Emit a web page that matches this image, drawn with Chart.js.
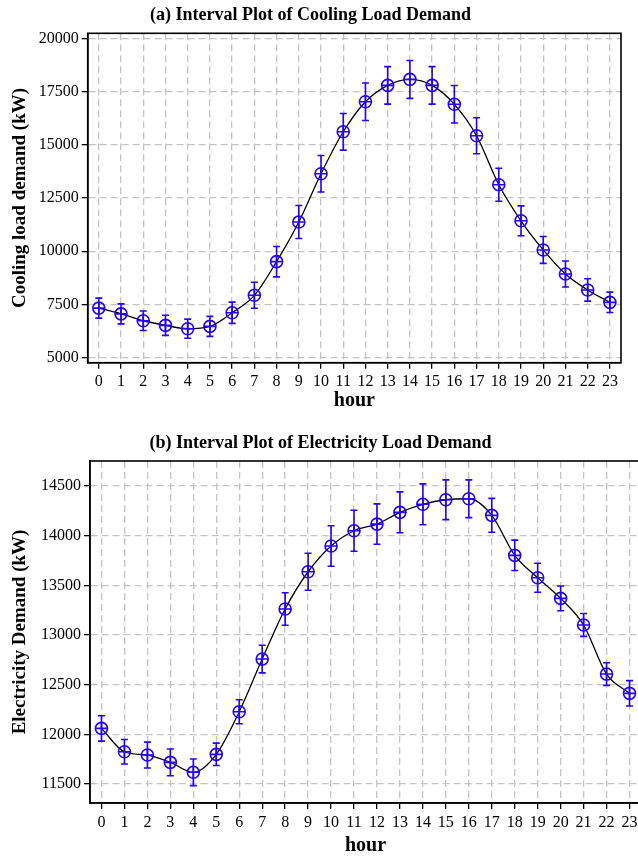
<!DOCTYPE html>
<html>
<head>
<meta charset="utf-8">
<script src="https://cdn.jsdelivr.net/npm/chart.js@4.4.1/dist/chart.umd.min.js"></script>
<style>
  html, body { margin: 0; padding: 0; background: #fff; overflow: hidden; width: 638px; height: 856px; }
  .wrap { position: absolute; left: 0; }
  #wrapA { top: 0; width: 638px; height: 425px; }
  #wrapB { top: 425px; width: 660px; height: 440px; }
</style>
</head>
<body>
<div class="wrap" id="wrapA"><canvas id="chartA" width="638" height="425"></canvas></div>
<div class="wrap" id="wrapB"><canvas id="chartB" width="660" height="440"></canvas></div>
<script>
// Hour of day (x categories)
const hours = ['0','1','2','3','4','5','6','7','8','9','10','11','12','13','14','15','16','17','18','19','20','21','22','23'];

// (a) Cooling load demand: hourly mean and half-width of the interval (kW)
const coolingMean = [7330, 7060, 6735, 6520, 6360, 6470, 7110, 7930, 9510, 11370, 13640, 15610,
                     17020, 17790, 18070, 17790, 16900, 15425, 13125, 11430, 10060, 8930, 8180, 7600];
const coolingErr  = [470, 470, 460, 470, 450, 470, 500, 610, 715, 775, 855, 860,
                     880, 880, 890, 880, 880, 845, 775, 700, 630, 610, 525, 480];
const coolingTicks = [5000, 7500, 10000, 12500, 15000, 17500, 20000];

// (b) Electricity load demand: hourly mean and half-width of the interval (kW)
const elecMean = [12060, 11825, 11792, 11718, 11618, 11799, 12228, 12758, 13262, 13637, 13896, 14050,
                  14117, 14235, 14316, 14362, 14372, 14205, 13802, 13577, 13369, 13101, 12607, 12413];
const elecErr  = [128, 124, 130, 134, 134, 113, 121, 139, 163, 186, 204, 206,
                  203, 206, 206, 200, 190, 171, 153, 146, 124, 115, 114, 128];
const elecTicks = [11500, 12000, 12500, 13000, 13500, 14000, 14500];

const BLUE = '#2400ff';
const GRID = '#c4c4c4';
const SERIF = "'Liberation Serif', 'Times New Roman', serif";

// Vertical error bars with caps, drawn through the chart's own scales
const errorBarPlugin = {
  id: 'errorBars',
  afterDatasetsDraw(chart) {
    const ctx = chart.ctx;
    const xs = chart.scales.x, ys = chart.scales.y;
    chart.data.datasets.forEach((ds) => {
      if (!ds.errors) return;
      ctx.save();
      ctx.strokeStyle = BLUE;
      ctx.lineWidth = 1.6;
      ds.data.forEach((v, i) => {
        const x = xs.getPixelForValue(i);
        const yt = ys.getPixelForValue(v + ds.errors[i]);
        const yb = ys.getPixelForValue(v - ds.errors[i]);
        const cap = 3.5;
        ctx.beginPath();
        ctx.moveTo(x, yt); ctx.lineTo(x, yb);
        ctx.moveTo(x - cap, yt); ctx.lineTo(x + cap, yt);
        ctx.moveTo(x - cap, yb); ctx.lineTo(x + cap, yb);
        ctx.stroke();
      });
      ctx.restore();
    });
  }
};

// Black frame around the plotting area
const framePlugin = {
  id: 'frame',
  afterDraw(chart) {
    const a = chart.chartArea, ctx = chart.ctx;
    ctx.save();
    ctx.strokeStyle = '#000';
    ctx.lineWidth = 1.6;
    ctx.strokeRect(a.left, a.top, a.right - a.left, a.bottom - a.top);
    ctx.restore();
  }
};

function buildChart(id, cfg) {
  return new Chart(document.getElementById(id), {
    type: 'line',
    data: {
      labels: hours,
      datasets: [
        { data: cfg.mean, borderColor: '#000', borderWidth: 1.3, pointRadius: 0,
          cubicInterpolationMode: 'monotone', fill: false, order: 3 },
        { data: cfg.mean, errors: cfg.err, showLine: false, pointStyle: 'circle', pointRadius: 6,
          pointBorderColor: BLUE, pointBackgroundColor: 'rgba(0,0,0,0)', pointBorderWidth: 1.6, order: 2 },
        { data: cfg.mean, showLine: false, pointStyle: 'cross', pointRadius: 6,
          pointBorderColor: BLUE, pointBorderWidth: 1.6, order: 1 }
      ]
    },
    options: {
      responsive: false,
      animation: false,
      devicePixelRatio: 1,
      layout: { padding: { left: 0, right: cfg.padRight, top: 0, bottom: 0 } },
      plugins: {
        legend: { display: false },
        tooltip: { enabled: false },
        title: {
          display: true, text: cfg.title, color: '#000',
          font: { family: SERIF, size: 18, weight: 'bold' },
          padding: { top: cfg.titleTop, bottom: cfg.titleBottom }
        }
      },
      scales: {
        x: {
          type: 'category',
          offset: true,
          grid: { offset: false, color: GRID, lineWidth: 1.3, tickColor: '#000', tickLength: 6,
                  tickWidth: 1.3, tickBorderDash: [] },
          border: { display: true, color: '#000', width: 1.6, dash: [7, 4] },
          ticks: { color: '#000', font: { family: SERIF, size: 16 }, padding: cfg.xTickPad,
                   maxRotation: 0, autoSkip: false },
          title: { display: true, text: 'hour', color: '#000',
                   font: { family: SERIF, size: 20, weight: 'bold' },
                   padding: { top: 0, bottom: cfg.xTitleBottom } },
          afterFit(s) { s.height = cfg.xHeight; }
        },
        y: {
          type: 'linear',
          min: cfg.yMin, max: cfg.yMax,
          afterBuildTicks(s) { s.ticks = cfg.ticks.map(v => ({ value: v })); },
          grid: { color: GRID, lineWidth: 1.3, tickColor: '#000', tickLength: 6,
                  tickWidth: 1.3, tickBorderDash: [] },
          border: { display: true, color: '#000', width: 1.6, dash: [7, 4] },
          ticks: { color: '#000', font: { family: SERIF, size: 16 }, padding: 3,
                   callback: v => String(v) },
          title: { display: true, text: cfg.yTitle, color: '#000',
                   font: { family: SERIF, size: 19, weight: 'bold' },
                   padding: { top: 9, bottom: 0 } },
          afterFit(s) { s.width = cfg.yWidth; }
        }
      }
    },
    plugins: [errorBarPlugin, framePlugin]
  });
}

buildChart('chartA', {
  title: '(a) Interval Plot of Cooling Load Demand',
  yTitle: 'Cooling load demand (kW)',
  mean: coolingMean, err: coolingErr, ticks: coolingTicks,
  yMin: 4765, yMax: 20235,
  padRight: 17, titleTop: 4.7, titleBottom: 7,
  yWidth: 87.7, xHeight: 62.3, xTickPad: 3, xTitleBottom: 12
});

buildChart('chartB', {
  title: '(b) Interval Plot of Electricity Load Demand',
  yTitle: 'Electricity Demand (kW)',
  mean: elecMean, err: elecErr, ticks: elecTicks,
  yMin: 11309, yMax: 14752,
  padRight: 19, titleTop: 7.2, titleBottom: 7.2,
  yWidth: 90, xHeight: 62, xTickPad: 4.5, xTitleBottom: 7
});
</script>
</body>
</html>
